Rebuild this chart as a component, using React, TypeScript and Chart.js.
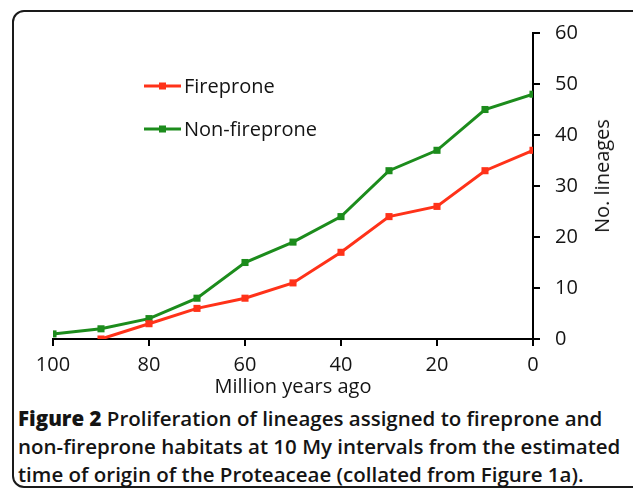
import React, { useEffect, useRef } from 'react';
import { Chart, registerables } from 'chart.js';

Chart.register(...registerables);

// ---- data ----
const years = [100, 90, 80, 70, 60, 50, 40, 30, 20, 10, 0];
const fireprone = [null, 0, 3, 6, 8, 11, 17, 24, 26, 33, 37];
const nonFireprone = [1, 2, 4, 8, 15, 19, 24, 33, 37, 45, 48];
const seriesLabels = ['Fireprone', 'Non-fireprone'];
const seriesColors = ['#ff3219', '#1c8c1c'];
const xTickValues = [100, 80, 60, 40, 20, 0];
const yTickValues = [0, 10, 20, 30, 40, 50, 60];
const xTitle = 'Million years ago';
const yTitle = 'No. lineages';
const captionBold = 'Figure 2';
const captionLines = [
  ' Proliferation of lineages assigned to fireprone and',
  'non-fireprone habitats at 10 My intervals from the estimated',
  'time of origin of the Proteaceae (collated from Figure 1a).',
];

const FONT = '"Open Sans", "Noto Sans", sans-serif';
const TEXT = '#141414';

const legendPlugin = {
  id: 'inlineLegend',
  afterDraw(chart: any) {
    const ctx = chart.ctx;
    chart.data.datasets.forEach((ds: any, i: number) => {
      const y = 86 + i * 43;
      ctx.save();
      ctx.strokeStyle = ds.borderColor;
      ctx.lineWidth = 3;
      ctx.beginPath();
      ctx.moveTo(144, y);
      ctx.lineTo(181, y);
      ctx.stroke();
      ctx.fillStyle = ds.borderColor;
      ctx.fillRect(159, y - 3.5, 7, 7);
      ctx.fillStyle = TEXT;
      ctx.font = '20px ' + FONT;
      ctx.textBaseline = 'middle';
      ctx.textAlign = 'left';
      ctx.fillText(ds.label, 184, y + 1);
      ctx.restore();
    });
  },
};

export default function App() {
  const canvasRef = useRef<HTMLCanvasElement | null>(null);

  useEffect(() => {
    if (!canvasRef.current) return;
    const series = [fireprone, nonFireprone];
    const chart = new Chart(canvasRef.current, {
      type: 'line',
      data: {
        datasets: series.map((vals, i) => ({
          label: seriesLabels[i],
          data: years
            .map((yr, j) => ({ x: yr, y: vals[j] }))
            .filter((p) => p.y !== null) as any,
          borderColor: seriesColors[i],
          backgroundColor: seriesColors[i],
          borderWidth: 3,
          pointStyle: 'rect',
          pointRadius: 5,
          pointBorderWidth: 0,
          tension: 0,
          fill: false,
        })),
      },
      options: {
        responsive: false,
        animation: false,
        devicePixelRatio: 1,
        layout: { padding: { left: 53, top: 33, right: 0, bottom: 0 } },
        plugins: {
          legend: { display: false },
          tooltip: { enabled: false },
        },
        scales: {
          x: {
            type: 'linear',
            min: 0,
            max: 100,
            reverse: true,
            afterBuildTicks: (s: any) => {
              s.ticks = xTickValues.map((v) => ({ value: v }));
            },
            afterFit: (s: any) => {
              s.height = 61;
            },
            grid: {
              display: true,
              drawOnChartArea: false,
              drawTicks: true,
              tickLength: 7,
              color: '#000',
              lineWidth: 2,
            },
            border: { display: true, color: '#000', width: 2 },
            ticks: {
              color: TEXT,
              font: { family: FONT, size: 20 },
              padding: 7,
              maxRotation: 0,
              autoSkip: false,
            },
            title: {
              display: true,
              text: xTitle,
              color: TEXT,
              font: { family: FONT, size: 20 },
              padding: { top: 0, bottom: 1 },
            },
          },
          y: {
            type: 'linear',
            position: 'right',
            min: 0,
            max: 60,
            afterBuildTicks: (s: any) => {
              s.ticks = yTickValues.map((v) => ({ value: v }));
            },
            afterFit: (s: any) => {
              s.width = 100;
            },
            grid: {
              display: true,
              drawOnChartArea: false,
              drawTicks: true,
              tickLength: 7,
              color: '#000',
              lineWidth: 2,
            },
            border: { display: true, color: '#000', width: 2 },
            ticks: {
              color: TEXT,
              font: { family: FONT, size: 20 },
              padding: 15,
              autoSkip: false,
            },
          },
        },
      },
      plugins: [legendPlugin],
    });
    return () => chart.destroy();
  }, []);

  return (
    <div
      style={{
        position: 'fixed',
        left: 0,
        top: 0,
        width: 633,
        height: 491,
        overflow: 'hidden',
        background: '#fff',
        fontFamily: FONT,
        color: TEXT,
      }}
    >
      <div
        style={{
          position: 'absolute',
          left: 12,
          top: 10,
          width: 640,
          height: 478,
          border: '2px solid #1a1a1a',
          borderRadius: 12,
          boxSizing: 'border-box',
        }}
      />
      <div style={{ position: 'absolute', left: 0, top: 0, width: 633, height: 400 }}>
        <canvas ref={canvasRef} width={633} height={400} />
      </div>
      <div
        style={{
          position: 'absolute',
          left: 602,
          top: 176,
          transform: 'translate(-50%, -50%) rotate(-90deg)',
          whiteSpace: 'nowrap',
          fontSize: 20,
          lineHeight: '24px',
        }}
      >
        {yTitle}
      </div>
      <div
        style={{
          position: 'absolute',
          left: 18,
          top: 404,
          fontSize: 20.5,
          lineHeight: '28px',
          fontWeight: 600,
          whiteSpace: 'nowrap',
        }}
      >
        {captionLines.map((line, i) => (
          <div key={i}>
            {i === 0 ? <span style={{ fontWeight: 800 }}>{captionBold}</span> : null}
            {line}
          </div>
        ))}
      </div>
    </div>
  );
}
